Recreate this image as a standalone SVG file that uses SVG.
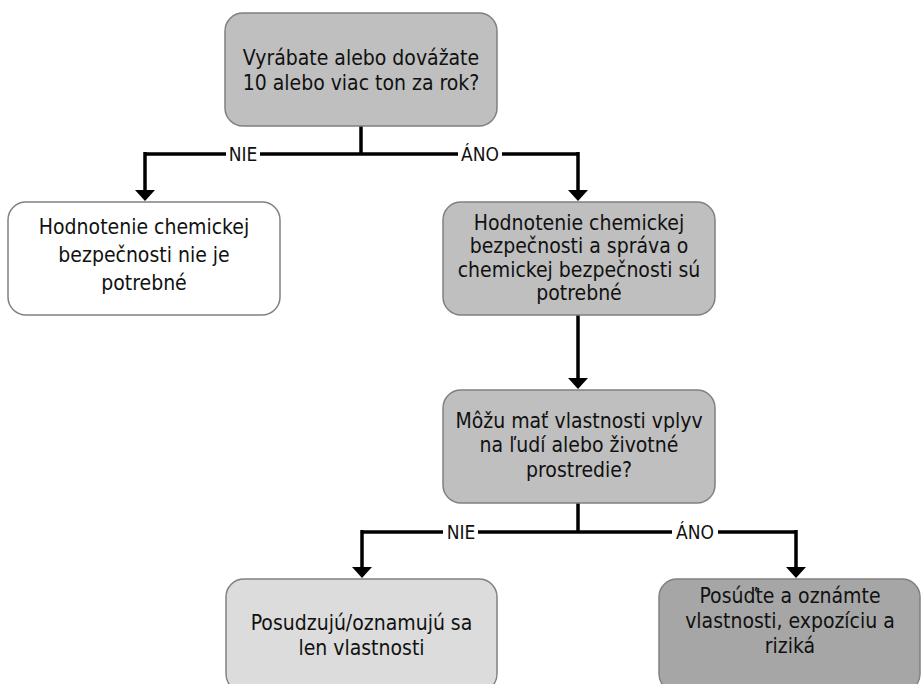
<svg xmlns="http://www.w3.org/2000/svg" width="922" height="684" viewBox="0 0 922 684">
<defs>
<style>
.box{stroke:#808080;stroke-width:1.5}
.t{font-family:"DejaVu Sans Condensed","DejaVu Sans",sans-serif;font-stretch:condensed;font-size:21px;fill:#111;text-anchor:middle}
.lbl{font-family:"DejaVu Sans Condensed","DejaVu Sans",sans-serif;font-stretch:condensed;font-size:19px;fill:#111;text-anchor:middle}
.ln{stroke:#000;stroke-width:3.5;fill:none}
</style>
</defs>
<rect width="922" height="684" fill="#fff"/>
<g id="connectors">
<path class="ln" d="M361,126 V154"/>
<path class="ln" d="M145,154 H578"/>
<path class="ln" d="M145,152 V190"/>
<path d="M135,190 L155,190 L145,201 Z" fill="#000"/>
<path class="ln" d="M578,152 V190"/>
<path d="M568,190 L588,190 L578,201 Z" fill="#000"/>
<path class="ln" d="M578,315 V378"/>
<path d="M568,378 L588,378 L578,389 Z" fill="#000"/>
<path class="ln" d="M578,503 V532"/>
<path class="ln" d="M362,532 H796"/>
<path class="ln" d="M362,530 V567"/>
<path d="M352,567 L372,567 L362,578 Z" fill="#000"/>
<path class="ln" d="M796,530 V567"/>
<path d="M786,567 L806,567 L796,578 Z" fill="#000"/>
<rect x="226" y="144" width="34" height="20" fill="#fff"/>
<text class="lbl" x="243" y="161">NIE</text>
<rect x="458" y="144" width="44" height="20" fill="#fff"/>
<text class="lbl" x="480" y="161">ÁNO</text>
<rect x="443" y="522" width="35" height="20" fill="#fff"/>
<text class="lbl" x="461" y="539">NIE</text>
<rect x="672" y="522" width="46" height="20" fill="#fff"/>
<text class="lbl" x="695" y="539">ÁNO</text>
</g>
<g id="q1">
<rect class="box" x="225" y="13" width="272" height="113" rx="18" fill="#bfbfbf"/>
<text class="t" x="361" y="65">Vyrábate alebo dovážate</text>
<text class="t" x="361" y="90">10 alebo viac ton za rok?</text>
</g>
<g id="no1">
<rect class="box" x="8" y="202" width="272" height="113" rx="18" fill="#fff"/>
<text class="t" x="144" y="234">Hodnotenie chemickej</text>
<text class="t" x="144" y="262">bezpečnosti nie je</text>
<text class="t" x="144" y="290">potrebné</text>
</g>
<g id="yes1">
<rect class="box" x="443" y="202" width="272" height="113" rx="18" fill="#bfbfbf"/>
<text class="t" x="579" y="230">Hodnotenie chemickej</text>
<text class="t" x="579" y="253">bezpečnosti a správa o</text>
<text class="t" x="579" y="277">chemickej bezpečnosti sú</text>
<text class="t" x="579" y="300">potrebné</text>
</g>
<g id="q2">
<rect class="box" x="443" y="390" width="272" height="113" rx="18" fill="#bfbfbf"/>
<text class="t" x="579" y="428">Môžu mať vlastnosti vplyv</text>
<text class="t" x="579" y="452">na ľudí alebo životné</text>
<text class="t" x="579" y="477">prostredie?</text>
</g>
<g id="no2">
<rect class="box" x="226" y="579" width="271" height="113" rx="18" fill="#dcdcdc"/>
<text class="t" x="361.5" y="630">Posudzujú/oznamujú sa</text>
<text class="t" x="361.5" y="655">len vlastnosti</text>
</g>
<g id="yes2">
<rect class="box" x="659" y="579" width="261" height="113" rx="18" fill="#a6a6a6"/>
<text class="t" x="790" y="603">Posúďte a oznámte</text>
<text class="t" x="790" y="628">vlastnosti, expozíciu a</text>
<text class="t" x="790" y="653">riziká</text>
</g>
</svg>
